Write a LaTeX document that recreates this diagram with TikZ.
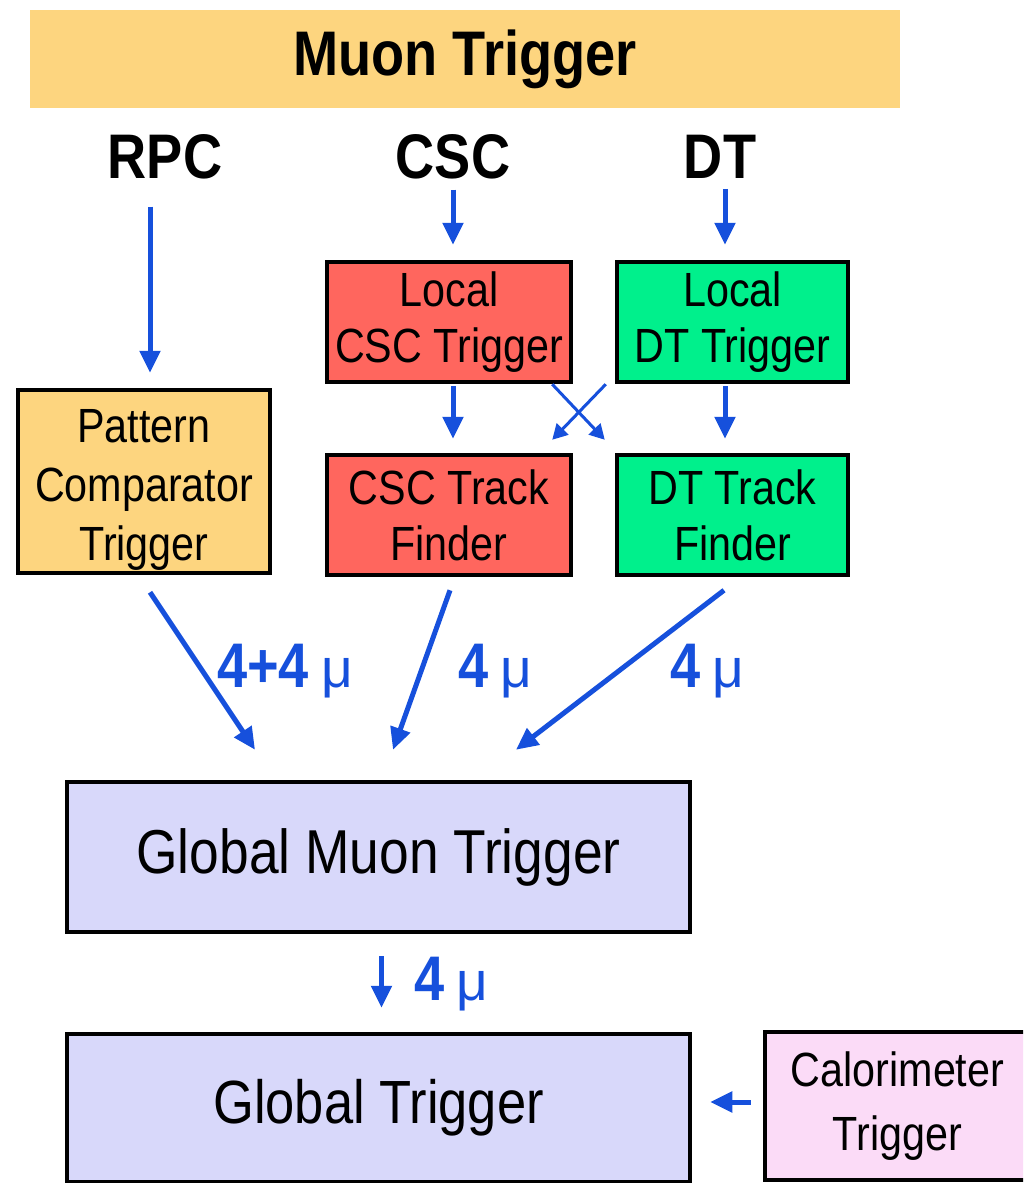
\documentclass[tikz,border=0pt]{standalone}
\usepackage{fontspec}
\setmainfont{Liberation Sans}[FakeStretch=0.86]
\newfontfamily\mufont{Liberation Sans}
\usetikzlibrary{arrows.meta}
\definecolor{orangebox}{HTML}{FDD57F}
\definecolor{redbox}{HTML}{FF665E}
\definecolor{greenbox}{HTML}{00F08C}
\definecolor{lavbox}{HTML}{D8D8FA}
\definecolor{pinkbox}{HTML}{FBDBF7}
\definecolor{arrowblue}{HTML}{1650DC}
\begin{document}
\begin{tikzpicture}[x=1pt,y=-1pt,
  box/.style={draw=black, line width=4.5pt, inner sep=0pt, align=center},
  boxtext/.style={font=\fontsize{48}{56}\selectfont},
  head/.style={font=\bfseries\fontsize{63}{70}\selectfont, inner sep=0pt},
  arr/.style={draw=arrowblue, line width=5pt, -{Triangle[length=22pt,width=20pt]}},
  thinarr/.style={draw=arrowblue, line width=3pt, -{Triangle[length=15pt,width=16pt]}},
  lbl/.style={text=arrowblue, inner sep=0pt, anchor=base west, font=\bfseries\fontsize{63}{63}\selectfont},
]
\useasboundingbox (0,0) rectangle (1023,1183);
\clip (0,0) rectangle (1023,1183);
\fill[white] (0,0) rectangle (1023,1183);

% title
\node[fill=orangebox, minimum width=870pt, minimum height=98pt, inner sep=0pt,
      font=\bfseries\fontsize{63}{70}\selectfont] (title) at (465,59) {Muon Trigger};

% sources
\node[head] (rpc) at (165,157) {RPC};
\node[head] (csc) at (453,157) {CSC};
\node[head] (dt) at (720,157) {DT};

% boxes
\node[box, fill=orangebox, minimum width=252pt, minimum height=183pt,
      font=\fontsize{48}{59}\selectfont] (pct) at (144,481.5) {\rule{0pt}{49pt}Pattern\\Comparator\\Trigger};
\node[box, fill=redbox, minimum width=244pt, minimum height=120pt, boxtext] (lcsc) at (449,322) {Local\\CSC Trigger};
\node[box, fill=greenbox, minimum width=231pt, minimum height=120pt, boxtext] (ldt) at (732.5,322) {Local\\DT Trigger};
\node[box, fill=redbox, minimum width=244pt, minimum height=120pt, boxtext] (csctf) at (449,515) {CSC Track\\Finder};
\node[box, fill=greenbox, minimum width=231pt, minimum height=120pt, boxtext] (dttf) at (732.5,515) {DT Track\\Finder};
\node[box, fill=lavbox, minimum width=623pt, minimum height=150pt,
      font=\fontsize{62}{70}\selectfont] (gmt) at (378.5,857) {Global Muon Trigger};
\node[box, fill=lavbox, minimum width=623pt, minimum height=148pt,
      font=\fontsize{61}{70}\selectfont] (gt) at (378.5,1108) {Global Trigger};
\node[box, fill=pinkbox, minimum width=265pt, minimum height=148pt,
      font=\fontsize{48}{64}\selectfont] (calo) at (897.5,1106) {Calorimeter\\Trigger};

% arrows from sources
\draw[arr, shorten <=27pt, shorten >=15pt] ([xshift=-15pt]rpc.south) -- ([xshift=6pt]pct.north);
\draw[arr, shorten <=10pt, shorten >=15pt] (csc.south) -- (csc.south |- lcsc.north);
\draw[arr, shorten <=10pt, shorten >=15pt] ([xshift=5pt]dt.south) -- ([xshift=5pt]dt.south |- ldt.north);

% local -> track finders
\draw[arr, shorten <=2pt, shorten >=14pt] ([xshift=4pt]lcsc.south) -- ([xshift=4pt]csctf.north);
\draw[arr, shorten <=2pt, shorten >=14pt] ([xshift=-7.5pt]ldt.south) -- ([xshift=-7.5pt]dttf.north);
\draw[thinarr] ([xshift=-21pt]lcsc.south east) -- ([xshift=-10pt,yshift=13pt]dttf.north west);
\draw[thinarr] ([xshift=-9pt]ldt.south west) -- ([xshift=-21pt,yshift=13pt]csctf.north east);

% to global muon trigger
\draw[arr] ([xshift=6pt,yshift=-17pt]pct.south) -- ([xshift=-123.5pt,yshift=30pt]gmt.north);
\draw[arr] ([xshift=1pt,yshift=-13pt]csctf.south) -- ([xshift=14.5pt,yshift=30pt]gmt.north);
\draw[arr] ([xshift=-8.5pt,yshift=-13pt]dttf.south) -- ([xshift=137.5pt,yshift=30pt]gmt.north);

% labels
\node[lbl] (l1) at (217,687) {4+4\hspace{12pt}{\mufont\mdseries\fontsize{55}{55}\selectfont μ}};
\node[lbl] (l2) at (458,687) {4\hspace{12pt}{\mufont\mdseries\fontsize{55}{55}\selectfont μ}};
\node[lbl] (l3) at (670,687) {4\hspace{12pt}{\mufont\mdseries\fontsize{55}{55}\selectfont μ}};

% gmt -> gt
\draw[arr, shorten <=22pt, shorten >=24pt] ([xshift=3pt]gmt.south) -- ([xshift=3pt]gt.north);
\node[lbl] (l4) at (414,1000) {4\hspace{12pt}{\mufont\mdseries\fontsize{55}{55}\selectfont μ}};

% calo -> gt
\draw[arr, shorten <=12pt, shorten >=18pt] ([yshift=4pt]calo.west) -- ([yshift=4pt]calo.west -| gt.east);
\end{tikzpicture}
\end{document}
